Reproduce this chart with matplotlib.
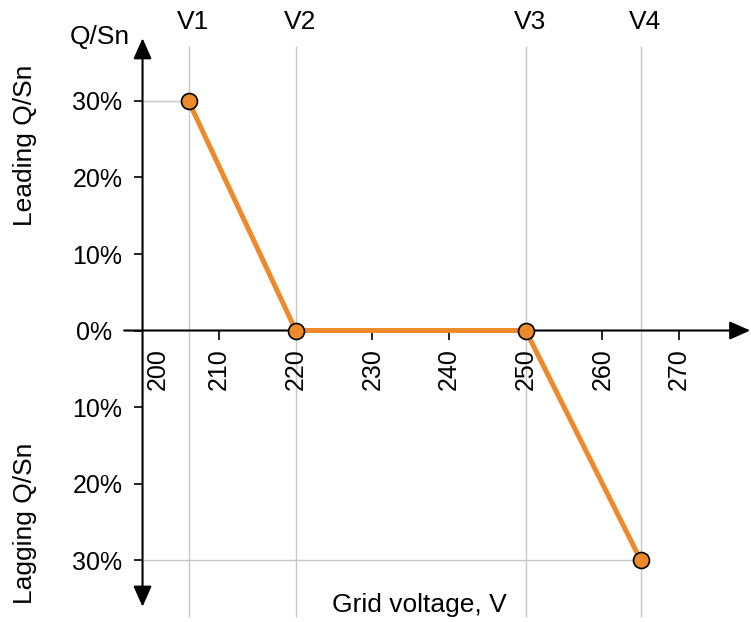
import matplotlib.pyplot as plt
from matplotlib.transforms import ScaledTranslation

plt.rcParams['font.family'] = ['Liberation Sans', 'DejaVu Sans']
plt.rcParams['font.size'] = 18

# Q(U) characteristic: reactive power setpoint vs grid voltage
voltage = [206, 220, 250, 265]
q_percent = [30, 0, 0, -30]
point_names = ['V1', 'V2', 'V3', 'V4']

x_ticks = [200, 210, 220, 230, 240, 250, 260, 270]
y_ticks = [-30, -20, -10, 0, 10, 20, 30]
y_tick_labels = ['30%', '20%', '10%', '0%', '10%', '20%', '30%']

line_color = '#ef8a2c'
grid_color = '#c8c8c8'

fig = plt.figure(figsize=(7.51, 6.22), dpi=100)
ax = fig.add_axes([0, 0, 1, 1])
ax.set_xlim(181.4, 279.4)
ax.set_ylim(-38.1, 43.2)

# axes cross at (200 V, 0 %); spines hidden, arrows drawn instead
for s in ax.spines.values():
    s.set_visible(False)
ax.spines['left'].set_position(('data', 200))
ax.spines['bottom'].set_position(('data', 0))

ax.set_xticks(x_ticks)
ax.set_xticklabels([str(t) for t in x_ticks], rotation=90)
ax.set_yticks(y_ticks)
ax.set_yticklabels(y_tick_labels)
ax.tick_params(axis='x', direction='out', length=6.5, width=1.2, pad=6)
ax.tick_params(axis='y', direction='out', length=6.5, width=1.2, pad=8)

# the 200 tick sits on the y axis: no mark, label pushed right
ax.xaxis.get_major_ticks()[0].tick1line.set_visible(False)
px = 1 / fig.dpi
lbl = ax.get_xticklabels()[0]
lbl.set_transform(lbl.get_transform() + ScaledTranslation(15 * px, 0, fig.dpi_scale_trans))
lbl = ax.get_yticklabels()[3]
lbl.set_transform(lbl.get_transform() + ScaledTranslation(-10 * px, 0, fig.dpi_scale_trans))

head = '-|>,head_length=0.45,head_width=0.2'
ax.annotate('', xy=(279.3, 0), xytext=(197.6, 0),
            arrowprops=dict(arrowstyle=head, color='black', lw=1.5,
                            mutation_scale=28, shrinkA=0, shrinkB=0))
ax.annotate('', xy=(200, 38.2), xytext=(200, -36.1),
            arrowprops=dict(arrowstyle='<|-|>,head_length=0.45,head_width=0.2',
                            color='black', lw=1.5, mutation_scale=28,
                            shrinkA=0, shrinkB=0))

# helper lines for the corner points
ax.vlines(voltage, -37.4, 37.2, color=grid_color, lw=1, zorder=0)
ax.hlines([q_percent[0], q_percent[-1]], 200, [voltage[0], voltage[-1]],
          color=grid_color, lw=1, zorder=0)

ax.plot(voltage, q_percent, color=line_color, lw=3.6, marker='o', ms=11.5,
        mfc=line_color, mec='black', mew=1.2, zorder=3)

for v, name in zip(voltage, point_names):
    ax.text(v + 0.6, 40.3, name, ha='center', va='center', fontsize=19)

ax.text(194.4, 38.4, 'Q/Sn', ha='center', va='center', fontsize=19)
ax.text(184.7, 24.2, 'Leading Q/Sn', ha='center', va='center',
        rotation=90, fontsize=19)
ax.text(184.7, -25.2, 'Lagging Q/Sn', ha='center', va='center',
        rotation=90, fontsize=19)
ax.text(236.1, -35.9, 'Grid voltage, V', ha='center', va='center', fontsize=19)

fig.savefig('out.png', dpi=100)
